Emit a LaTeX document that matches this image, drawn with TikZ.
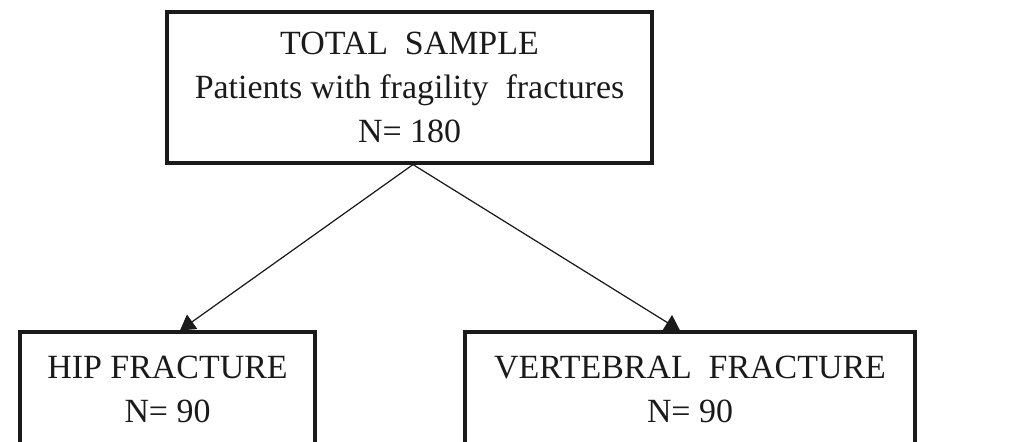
\documentclass[tikz,border=0pt]{standalone}
\usepackage{fontspec}
\setmainfont{Liberation Serif}
\usetikzlibrary{arrows.meta}
\definecolor{flowink}{HTML}{1A1A1A}
\tikzset{
  flow box/.style={draw=flowink, line width=1.8pt, text=flowink,
    align=center, font=\fontsize{19.3}{25}\selectfont},
  flow link/.style={draw=flowink, line width=0.7pt,
    -{Triangle[width=10pt, length=8.5pt]}},
}

\begin{document}
\begin{tikzpicture}[x=0.02cm, y=-0.02cm]
  \useasboundingbox (0,0) rectangle (1013,442);

  % Whole cohort at the top.
  \node[flow box, minimum width=9.7cm, minimum height=3.02cm]
    (total) at (409.5,87.5)
    {TOTAL\ \ SAMPLE\\Patients with fragility\ \ fractures\\N= 180};

  % The two fracture groups; their lower edges run off the page.
  \node[flow box, minimum width=5.9cm, minimum height=2.28cm]
    (hip) at (167.5,389) {HIP FRACTURE\\N= 90};
  \node[flow box, minimum width=9.0cm, minimum height=2.28cm]
    (vert) at (690,389) {VERTEBRAL\ \ FRACTURE\\N= 90};

  \draw[flow link] ([xshift=0.07cm]total.south) -- ([xshift=0.25cm]hip.north);
  \draw[flow link] ([xshift=0.07cm]total.south) -- ([xshift=-0.2cm]vert.north);
\end{tikzpicture}
\end{document}
